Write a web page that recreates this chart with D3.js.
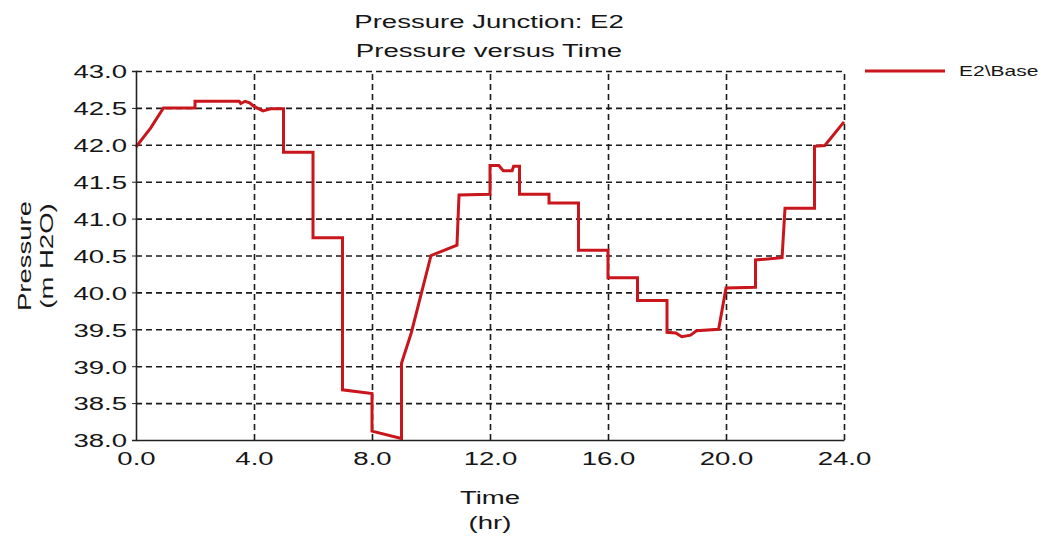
<!DOCTYPE html>
<html>
<head>
<meta charset="utf-8">
<script src="https://cdn.jsdelivr.net/npm/d3@7"></script>
<style>
  html, body { margin: 0; padding: 0; background: #ffffff; }
  svg { display: block; }
  text { font-family: "Liberation Sans", Arial, sans-serif; fill: #161616; }
</style>
</head>
<body>
<svg id="chart" width="1045" height="538"></svg>
<script>
// ---- data ----
const titleLines = ["Pressure Junction: E2", "Pressure versus Time"];
const seriesName = "E2\\Base";
const xTitleLines = ["Time", "(hr)"];
const yTitleLines = ["Pressure", "(m H2O)"];
const xTickValues = [0, 4, 8, 12, 16, 20, 24];
const yTickValues = [38.0, 38.5, 39.0, 39.5, 40.0, 40.5, 41.0, 41.5, 42.0, 42.5, 43.0];
const times = [
  0, 0.25, 0.5, 0.93, 2.0, 2.0, 3.5, 3.55, 3.7, 3.85, 4.0, 4.3, 4.6, 5.0, 5.0,
  6.0, 6.0, 7.0, 7.0, 8.0, 8.0, 9.0, 9.0, 9.33, 10.0, 10.88, 10.95, 12.0, 12.0,
  12.3, 12.45, 12.75, 12.8, 13.0, 13.0, 14.0, 14.0, 15.0, 15.0, 16.0, 16.0,
  17.0, 17.0, 18.0, 18.0, 18.3, 18.5, 18.8, 19.0, 19.75, 20.0, 21.0, 21.0,
  21.9, 22.0, 23.0, 23.0, 23.35, 24.0
];
const pressures = [
  41.97, 42.1, 42.23, 42.5, 42.5, 42.59, 42.59, 42.56, 42.59, 42.57, 42.52, 42.46, 42.49, 42.49, 41.9,
  41.9, 40.74, 40.74, 38.68, 38.63, 38.12, 38.02, 39.04, 39.45, 40.5, 40.64, 41.32, 41.33, 41.72,
  41.72, 41.65, 41.65, 41.71, 41.71, 41.33, 41.33, 41.21, 41.21, 40.57, 40.57, 40.2,
  40.2, 39.89, 39.89, 39.46, 39.45, 39.4, 39.42, 39.48, 39.5, 40.06, 40.07, 40.44,
  40.47, 41.14, 41.14, 41.98, 41.99, 42.31
];

// ---- layout ----
const W = 1045, H = 538;
const plot = { left: 136, right: 844, top: 71, bottom: 440 };
const stretch = 1.45;
const lineColor = "#c8161c";

const svg = d3.select("#chart");
const x = d3.scaleLinear().domain([0, 24]).range([plot.left, plot.right]);
const y = d3.scaleLinear().domain([38, 43]).range([plot.bottom, plot.top]);

// horizontal grid (dashed)
const gy = svg.append("g")
  .attr("transform", `translate(${plot.left},0)`)
  .call(d3.axisLeft(y).tickValues(yTickValues.filter(v => v !== 38)).tickSize(-(plot.right - plot.left)).tickFormat(""));
gy.select(".domain").remove();
gy.selectAll("line").attr("stroke", "#1a1a1a").attr("stroke-width", 1.6).attr("stroke-dasharray", "6,4");

// vertical grid (dashed)
const gx = svg.append("g")
  .attr("transform", `translate(0,${plot.bottom})`)
  .call(d3.axisBottom(x).tickValues(xTickValues.filter(v => v !== 0)).tickSize(-(plot.bottom - plot.top)).tickFormat(""));
gx.select(".domain").remove();
gx.selectAll("line").attr("stroke", "#1a1a1a").attr("stroke-width", 1.6).attr("stroke-dasharray", "6,4");

// series line
const line = d3.line().x((d, i) => x(times[i])).y(d => y(d));
svg.append("path")
  .datum(pressures)
  .attr("fill", "none")
  .attr("stroke", lineColor)
  .attr("stroke-width", 3)
  .attr("stroke-linejoin", "miter")
  .attr("d", line);

// left axis
const ay = svg.append("g")
  .attr("transform", `translate(${plot.left},0)`)
  .call(d3.axisLeft(y).tickValues(yTickValues).tickSize(4).tickPadding(5).tickFormat(d3.format(".1f")));
ay.select(".domain").attr("stroke", "#222").attr("stroke-width", 1.6);
ay.selectAll(".tick line").attr("stroke", "#222");
ay.selectAll(".tick text")
  .attr("x", 0).attr("dy", "0.36em")
  .attr("transform", `translate(-9,0) scale(${stretch},1)`)
  .style("font-size", "19px").attr("fill", "#161616");

// bottom axis
const ax = svg.append("g")
  .attr("transform", `translate(0,${plot.bottom})`)
  .call(d3.axisBottom(x).tickValues(xTickValues).tickSize(0).tickPadding(12).tickFormat(d3.format(".1f")));
ax.select(".domain").attr("stroke", "#222").attr("stroke-width", 1.6);
ax.selectAll(".tick text")
  .attr("transform", `scale(${stretch},1)`)
  .style("font-size", "19px").attr("fill", "#161616");

// helper for horizontally stretched text
function stretchedText(str, tx, ty, size, rotate) {
  svg.append("text")
    .attr("text-anchor", "middle")
    .attr("transform", `translate(${tx},${ty})${rotate ? " rotate(-90)" : ""} scale(${stretch},1)`)
    .style("font-size", size + "px")
    .text(str);
}

// titles
stretchedText(titleLines[0], 489, 28, 19);
stretchedText(titleLines[1], 489, 57, 19);

// axis titles
stretchedText(xTitleLines[0], 490, 504, 19);
stretchedText(xTitleLines[1], 490, 529, 19);
stretchedText(yTitleLines[0], 31, 256, 19, true);
stretchedText(yTitleLines[1], 53, 256, 19, true);

// legend
svg.append("line")
  .attr("x1", 865).attr("x2", 945).attr("y1", 71).attr("y2", 71)
  .attr("stroke", lineColor).attr("stroke-width", 3);
svg.append("text")
  .attr("transform", `translate(959,76) scale(1.5,1)`)
  .style("font-size", "14px")
  .text(seriesName);
</script>
</body>
</html>
